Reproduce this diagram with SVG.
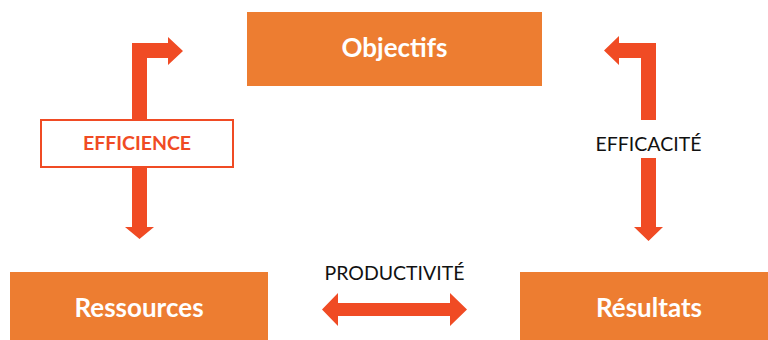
<svg xmlns="http://www.w3.org/2000/svg" width="768" height="340" viewBox="0 0 768 340">
<style>
.box{fill:#ED7D31}
.lbl{font-family:Lato,"Open Sans","Liberation Sans",sans-serif;font-weight:bold;font-size:26px;fill:#fff;text-anchor:middle}
.arr{fill:#F04B24}
.t{font-family:Lato,"Open Sans","Liberation Sans",sans-serif;font-size:19.5px;fill:#111;text-anchor:middle}
</style>
<rect width="768" height="340" fill="#fff"/>
<g id="connectors">
<polygon class="arr" points="132,120 132,43 168,43 168,37 183,51 168,65 168,58 147,58 147,120"/>
<polygon class="arr" points="132,167 147,167 147,227 154,227 139.5,239 125,227 132,227"/>
<polygon class="arr" points="656,120 656,43 619,43 619,36 604,50.5 619,65 619,58 641,58 641,120"/>
<polygon class="arr" points="641,158 656,158 656,227 663,227 648.5,241 634,227 641,227"/>
<polygon class="arr" points="322,309.5 338,293 338,303 450,303 450,293 467,309.5 450,326 450,316 338,316 338,326"/>
</g>
<g id="objectifs">
<rect class="box" x="247" y="12" width="295" height="74"/>
<text class="lbl" x="394.5" y="57">Objectifs</text>
</g>
<g id="ressources">
<rect class="box" x="10" y="272" width="258" height="68"/>
<text class="lbl" x="139" y="317">Ressources</text>
</g>
<g id="resultats">
<rect class="box" x="520" y="272" width="248" height="68"/>
<text class="lbl" x="649" y="317">Résultats</text>
</g>
<g id="efficience">
<rect x="41" y="120" width="192" height="47" fill="#fff" stroke="#F04B24" stroke-width="2"/>
<text x="137" y="150" font-family="Lato,'Open Sans','Liberation Sans',sans-serif" font-weight="bold" font-size="19.5" fill="#F04B24" text-anchor="middle">EFFICIENCE</text>
</g>
<g id="efficacite">
<text class="t" x="648.5" y="151">EFFICACITÉ</text>
</g>
<g id="productivite">
<text class="t" x="394.5" y="280">PRODUCTIVITÉ</text>
</g>
</svg>
